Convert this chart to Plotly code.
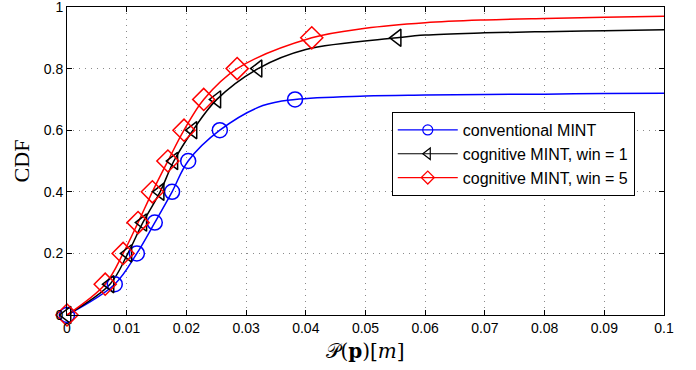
import plotly.graph_objects as go

# CDF levels where markers are drawn
levels_blue = [0, 0.1, 0.2, 0.3, 0.4, 0.5, 0.6, 0.7]
levels_cog = [0, 0.1, 0.2, 0.3, 0.4, 0.5, 0.6, 0.7, 0.8, 0.9]

# marker x-positions
x_blue_mk = [0, 0.0080, 0.0117, 0.0147, 0.0176, 0.0203, 0.0256, 0.0382]
x_win1_mk = [0, 0.0072, 0.0102, 0.0127, 0.0156, 0.0179, 0.0211, 0.0251, 0.0320, 0.0553]
x_win5_mk = [0, 0.0064, 0.0094, 0.0119, 0.0143, 0.0169, 0.0196, 0.0229, 0.0285, 0.0410]

# curve samples
x_blue_ln = [0, 0.0080, 0.0117, 0.0147, 0.0176, 0.0203, 0.0256, 0.0328, 0.0382, 0.05, 0.06, 0.07, 0.08, 0.09, 0.1]
y_blue_ln = [0, 0.1, 0.2, 0.3, 0.4, 0.5, 0.6, 0.68, 0.7, 0.711, 0.714, 0.716, 0.717, 0.719, 0.72]

x_win1_ln = [0, 0.0072, 0.0102, 0.0127, 0.0156, 0.0179, 0.0211, 0.0251, 0.0320, 0.040, 0.0553, 0.06, 0.07, 0.08, 0.09, 0.1]
y_win1_ln = [0, 0.1, 0.2, 0.3, 0.4, 0.5, 0.6, 0.7, 0.8, 0.862, 0.9, 0.909, 0.916, 0.920, 0.923, 0.926]

x_win5_ln = [0, 0.0064, 0.0094, 0.0119, 0.0143, 0.0169, 0.0196, 0.0229, 0.0285, 0.0410, 0.05, 0.06, 0.07, 0.08, 0.09, 0.1]
y_win5_ln = [0, 0.1, 0.2, 0.3, 0.4, 0.5, 0.6, 0.7, 0.8, 0.9, 0.931, 0.949, 0.958, 0.963, 0.967, 0.970]

names = ["conventional MINT", "cognitive MINT, win = 1", "cognitive MINT, win = 5"]
colors = ["#0000ff", "#000000", "#ff0000"]
symbols = ["circle-open", "triangle-left-open", "diamond-open"]
sizes = [15, 15, 17]

x_ticks = [0, 0.01, 0.02, 0.03, 0.04, 0.05, 0.06, 0.07, 0.08, 0.09, 0.1]
x_tick_labels = ["0", "0.01", "0.02", "0.03", "0.04", "0.05", "0.06", "0.07", "0.08", "0.09", "0.1"]
y_ticks = [0, 0.2, 0.4, 0.6, 0.8, 1]
y_tick_labels = ["0", "0.2", "0.4", "0.6", "0.8", "1"]

fig = go.Figure()
lines = [(x_blue_ln, y_blue_ln), (x_win1_ln, y_win1_ln), (x_win5_ln, y_win5_ln)]
marks = [(x_blue_mk, levels_blue), (x_win1_mk, levels_cog), (x_win5_mk, levels_cog)]
for i in range(3):
    fig.add_trace(go.Scatter(x=lines[i][0], y=lines[i][1], mode="lines",
                             line=dict(color=colors[i], width=1.5, shape="spline", smoothing=1.0),
                             showlegend=False, hoverinfo="skip", cliponaxis=False))
for i in range(3):
    fig.add_trace(go.Scatter(x=marks[i][0], y=marks[i][1], mode="markers",
                             marker=dict(symbol=symbols[i], size=sizes[i], color=colors[i],
                                         line=dict(width=1.5, color=colors[i])),
                             showlegend=False, cliponaxis=False))
for i in range(3):
    fig.add_trace(go.Scatter(x=[None], y=[None], mode="lines+markers", name=names[i],
                             line=dict(color=colors[i], width=1.2),
                             marker=dict(symbol=symbols[i], size=10, color=colors[i],
                                         line=dict(width=1.2, color=colors[i]))))

axis_common = dict(showline=True, linecolor="black", linewidth=1, mirror="ticks",
                   ticks="inside", ticklen=5, tickcolor="black", automargin=False,
                   ticklabeloverflow="allow",
                   showgrid=True, gridcolor="#8a8a8a", griddash="1px,5px", gridwidth=1,
                   zeroline=False, tickfont=dict(family="Liberation Sans, Arial", size=14, color="black"))

fig.update_xaxes(range=[0, 0.1], tickvals=x_ticks, ticktext=x_tick_labels,
                 title=dict(text="𝒫(<b>p</b>)[<i>m</i>]", font=dict(family="DejaVu Serif, Liberation Serif", size=20, color="black"), standoff=9),
                 **axis_common)
fig.update_yaxes(range=[0, 1], tickvals=y_ticks, ticktext=y_tick_labels,
                 title=dict(text="CDF", font=dict(family="Liberation Serif, Times New Roman", size=22, color="black"), standoff=8),
                 **axis_common)

fig.update_layout(width=696, height=370, margin=dict(l=67, r=32, t=7, b=55),
                  paper_bgcolor="white", plot_bgcolor="white",
                  legend=dict(x=0.544, y=0.659, xanchor="left", yanchor="top",
                              bgcolor="white", bordercolor="black", borderwidth=1,
                              font=dict(family="Liberation Sans, Arial", size=16, color="black"),
                              itemwidth=60, tracegroupgap=0))

fig.write_html("out.html", config={"displayModeBar": False},
               post_script="document.body.style.margin='0';")
